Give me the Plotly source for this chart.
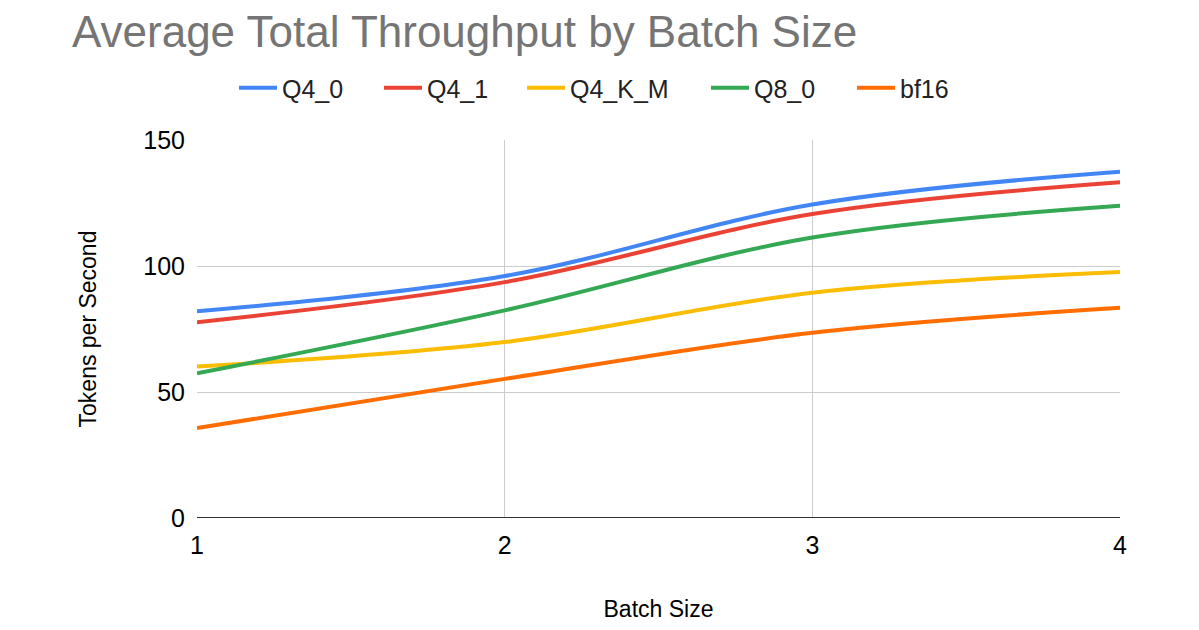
import plotly.graph_objects as go

batch_sizes = [1, 2, 3, 4]
q4_0 = [82, 96, 124.4, 137.4]
q4_1 = [77.7, 93.6, 120.6, 133.2]
q4_k_m = [60.1, 69.8, 89.4, 97.6]
q8_0 = [57.4, 82.4, 111.3, 123.9]
bf16 = [35.7, 55.2, 73.5, 83.4]

series = [
    ("Q4_0", q4_0, "#4285F4"),
    ("Q4_1", q4_1, "#EA4335"),
    ("Q4_K_M", q4_k_m, "#FBBC04"),
    ("Q8_0", q8_0, "#34A853"),
    ("bf16", bf16, "#FF6D01"),
]

# left edge of each legend entry (px from left of figure), spaced like the original
legend_left = [226, 371, 514, 698, 844]

font = "Liberation Sans, Arial, sans-serif"
fig = go.Figure()
legends = {}
for i, (name, vals, color) in enumerate(series):
    lname = 'legend' if i == 0 else f'legend{i + 1}'
    fig.add_trace(go.Scatter(
        x=batch_sizes, y=vals, mode='lines', name=name,
        line=dict(color=color, width=4, shape='spline', smoothing=1.0),
        legend=lname, showlegend=True
    ))
    legends[lname] = dict(orientation='h', xref='container', yref='container',
                          x=legend_left[i] / 1199, xanchor='left',
                          y=1 - 80 / 630, yanchor='middle',
                          font=dict(size=25, color='#222222'), itemwidth=38,
                          bgcolor='rgba(0,0,0,0)', visible=True)

fig.update_layout(
    width=1199, height=630,
    showlegend=True,
    paper_bgcolor='white', plot_bgcolor='white',
    margin=dict(l=189, r=87, t=132, b=120),
    font=dict(family=font, size=23, color='#000000'),
    title=dict(text="Average Total Throughput by Batch Size", xref='container', x=64 / 1199,
               xanchor='left', yref='container', y=1 - 24 / 630, yanchor='middle',
               font=dict(size=44, color='#757575')),
    xaxis=dict(title=dict(text="Batch Size", standoff=42, font=dict(size=23)),
               range=[1, 4], tickvals=[1, 2, 3, 4], showgrid=True, gridcolor='#cccccc',
               gridwidth=1, zeroline=False, showline=False, ticks='outside', ticklen=5,
               tickcolor='white', tickfont=dict(size=25)),
    yaxis=dict(title=dict(text="Tokens per Second", standoff=40, font=dict(size=23)),
               range=[0, 150], tickvals=[0, 50, 100, 150], showgrid=True, gridcolor='#cccccc',
               gridwidth=1, zeroline=False, showline=False, ticks='outside', ticklen=6,
               tickcolor='white', tickfont=dict(size=25)),
    shapes=[dict(type='line', xref='paper', yref='y', x0=0, x1=1, y0=0, y1=0,
                 line=dict(color='#333333', width=2))],
    **legends,
)

fig.write_html("out.html")
